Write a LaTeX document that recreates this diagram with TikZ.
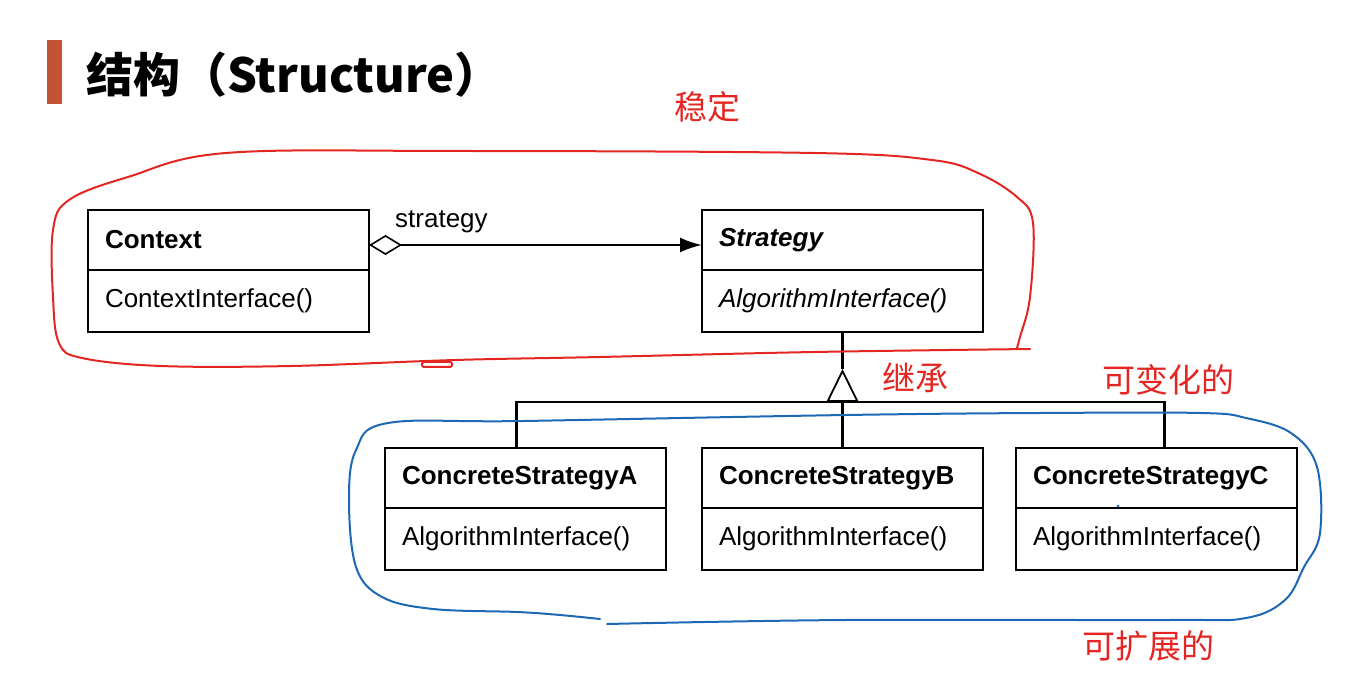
\documentclass[tikz,border=0pt]{standalone}
\usepackage{fontspec}
\setmainfont{Liberation Sans}
\newfontfamily\cjk{Noto Sans CJK SC}
\usepackage{tikz}
\usetikzlibrary{calc}
\usetikzlibrary{positioning}
\usetikzlibrary{arrows.meta}

\definecolor{titlebar}{RGB}{192,84,52}
\definecolor{penred}{RGB}{228,38,34}
\definecolor{penblue}{RGB}{28,104,180}

\tikzset{
  classname/.style={draw, line width=2.4pt, outer sep=0pt, inner xsep=17pt, inner ysep=0pt,
    text width=247pt, minimum height=60pt, align=left, font=\fontsize{26}{30}\selectfont},
  classops/.style={classname, minimum height=62pt},
  umlline/.style={line width=2.4pt},
  note/.style={inner sep=0pt, font=\cjk\fontsize{33}{36}\selectfont},
  pen/.style={line width=2pt, line cap=round, line join=round}
}

\begin{document}
\begin{tikzpicture}[>=stealth, x=1pt, y=1pt]
      \useasboundingbox (0,0) rectangle (1364,699);
      % Title with its bar
      \fill[titlebar] (47,595) rectangle (62,659);
      \node[anchor=west, inner sep=0pt, font=\cjk\bfseries\fontsize{47}{50}\selectfont] (title) at (86,624) {结构（Structure）};

      % The stable classes
      \node[classname, anchor=north west] (ctx) at (88,489) {\textbf{Context}};
      \node[classops, below=0pt of ctx] (ctxops) {ContextInterface()};
      \node[classname, anchor=north west] (strat) at (702,489) {\textbf{\itshape Strategy}};
      \node[classops, below=0pt of strat] (stratops) {\itshape AlgorithmInterface()};

      % Aggregation from Context to Strategy
      \draw[umlline, {Diamond[open, length=33pt, width=20pt, line width=1.6pt]}-{Latex[length=22pt, width=15pt]}]
        ([yshift=-5pt]ctx.east) -- ([yshift=-5pt]strat.west);
      \node[anchor=west, inner sep=0pt, font=\fontsize{26}{30}\selectfont] (role) at ([xshift=26pt,yshift=18pt]ctx.east) {strategy};

      % The concrete strategies
      \foreach \n/\x in {A/385, B/702, C/1016}{
        \node[classname, anchor=north west] (cs\n) at (\x,251) {\textbf{ConcreteStrategy\n}};
        \node[classops, below=0pt of cs\n] (ops\n) {AlgorithmInterface()};
      }

      % Inheritance tree
      \coordinate (apex) at ([yshift=-37pt]stratops.south);
      \coordinate (bus) at ([yshift=-70pt]stratops.south);
      \draw[umlline] (stratops.south) -- (apex);
      \draw[umlline, -{Triangle[open, length=33pt, width=32pt, line width=1.8pt]}] (bus) -- (apex);
      \draw[umlline] ([xshift=-9pt]csA.north) |- (bus) -| ([xshift=8pt]csC.north);
      \draw[umlline] (csB.north) -- (bus);

      %% Hand drawn marks
      \draw[pen, penred] plot[smooth, tension=0.6] coordinates {(1030,350) (814,347) (600,342) (455,339) (291,333)
        (161,333) (82,341) (59,356) (53,402) (53,469) (69,499) (128,522) (226,546) (455,548) (814,546)
        (932,539) (978,526) (1017,502) (1033,476) (1030,402) (1020,362) (1017,351)};
      \draw[pen, penred, rounded corners=2pt] (422,337) rectangle (452,332);
      \draw[pen, penblue] plot[smooth, tension=0.6] coordinates {(607,75) (846,79) (1169,79) (1246,81) (1285,99)
        (1304,132) (1320,166) (1317,232) (1291,266) (1246,281) (1201,286) (1040,286) (846,284) (524,278)
        (388,276) (356,249) (349,199) (356,132) (382,102) (433,90) (517,87) (560,84) (600,80)};
      \fill[penblue] (1118,193) circle (1.5);

      \node[note, text=penred] (stable) at (707,592) {稳定};
      \node[note, text=penred] (inherit) at (915,321) {继承};
      \node[note, text=penred] (vary) at (1168,319) {可变化的};
      \node[note, text=penred] (extend) at (1148,53) {可扩展的};
\end{tikzpicture}
\end{document}
